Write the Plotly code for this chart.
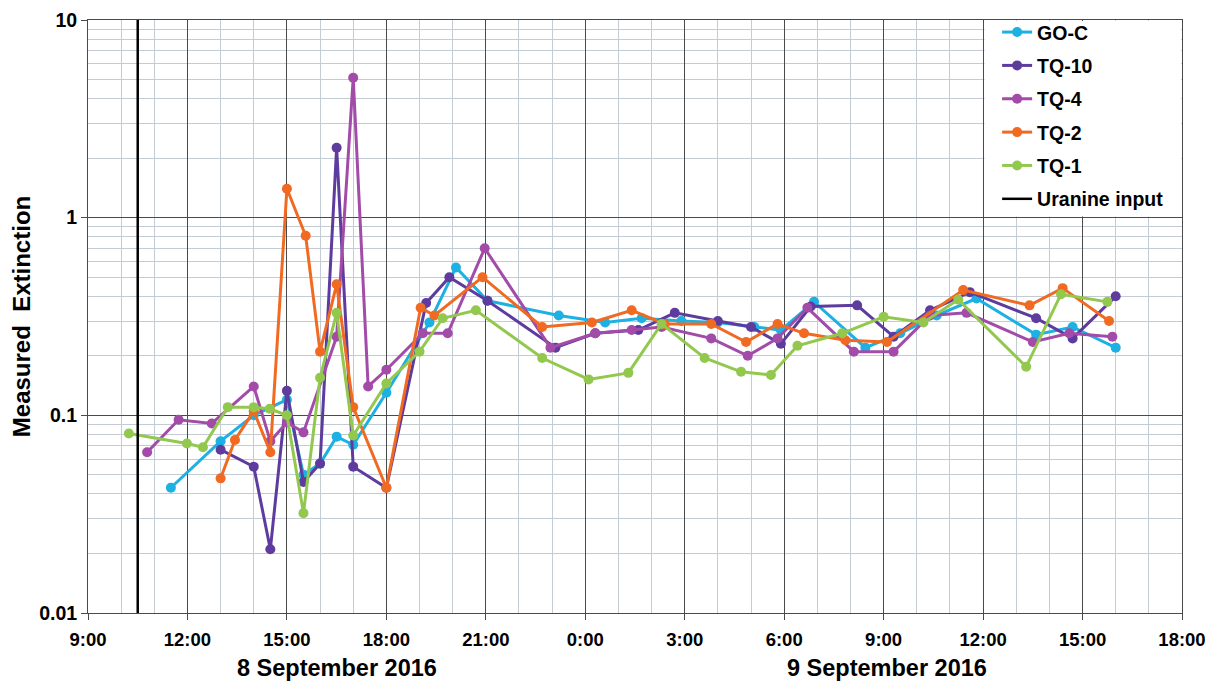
import plotly.graph_objects as go

# ---------------- data ----------------
goc_t = ["2016-09-08 11:30", "2016-09-08 13:00", "2016-09-08 14:00", "2016-09-08 15:00", "2016-09-08 15:30",
         "2016-09-08 16:00", "2016-09-08 16:30", "2016-09-08 17:00", "2016-09-08 18:00", "2016-09-08 19:18",
         "2016-09-08 20:06", "2016-09-08 21:03", "2016-09-08 23:12", "2016-09-09 00:36", "2016-09-09 01:42",
         "2016-09-09 02:54", "2016-09-09 04:00", "2016-09-09 05:06", "2016-09-09 05:54", "2016-09-09 06:54",
         "2016-09-09 08:27", "2016-09-09 09:30", "2016-09-09 10:36", "2016-09-09 11:48", "2016-09-09 13:36",
         "2016-09-09 14:42", "2016-09-09 16:00"]
goc_v = [0.043, 0.074, 0.10, 0.12, 0.050, 0.057, 0.078, 0.071, 0.13, 0.295,
         0.56, 0.38, 0.32, 0.295, 0.31, 0.30, 0.295, 0.28, 0.27, 0.375,
         0.22, 0.26, 0.32, 0.39, 0.256, 0.28, 0.22]

tq10_t = ["2016-09-08 13:00", "2016-09-08 14:00", "2016-09-08 14:30", "2016-09-08 15:00", "2016-09-08 15:30",
          "2016-09-08 16:00", "2016-09-08 16:30", "2016-09-08 17:00", "2016-09-08 18:00", "2016-09-08 19:12",
          "2016-09-08 19:54", "2016-09-08 21:03", "2016-09-08 23:06", "2016-09-09 00:18", "2016-09-09 01:36",
          "2016-09-09 02:42", "2016-09-09 04:00", "2016-09-09 05:00", "2016-09-09 05:54", "2016-09-09 06:48",
          "2016-09-09 08:12", "2016-09-09 09:18", "2016-09-09 10:24", "2016-09-09 11:36", "2016-09-09 13:36",
          "2016-09-09 14:42", "2016-09-09 16:00"]
tq10_v = [0.067, 0.055, 0.021, 0.133, 0.046, 0.057, 2.26, 0.055, 0.043, 0.37,
          0.50, 0.38, 0.22, 0.26, 0.27, 0.33, 0.30, 0.28, 0.23, 0.355,
          0.36, 0.25, 0.34, 0.42, 0.31, 0.245, 0.40]

tq4_t = ["2016-09-08 10:47", "2016-09-08 11:44", "2016-09-08 12:44", "2016-09-08 14:00", "2016-09-08 14:30",
         "2016-09-08 15:00", "2016-09-08 15:30", "2016-09-08 16:30", "2016-09-08 17:00", "2016-09-08 17:27",
         "2016-09-08 18:00", "2016-09-08 19:06", "2016-09-08 19:51", "2016-09-08 20:58", "2016-09-08 22:57",
         "2016-09-09 00:18", "2016-09-09 01:24", "2016-09-09 02:18", "2016-09-09 03:48", "2016-09-09 04:54",
         "2016-09-09 05:48", "2016-09-09 06:42", "2016-09-09 08:06", "2016-09-09 09:18", "2016-09-09 10:24",
         "2016-09-09 11:30", "2016-09-09 13:30", "2016-09-09 14:36", "2016-09-09 15:54"]
tq4_v = [0.065, 0.095, 0.091, 0.14, 0.074, 0.092, 0.082, 0.25, 5.1, 0.14,
         0.17, 0.26, 0.26, 0.70, 0.22, 0.26, 0.27, 0.28, 0.245, 0.20,
         0.245, 0.35, 0.21, 0.21, 0.32, 0.33, 0.235, 0.26, 0.25]

tq2_t = ["2016-09-08 13:00", "2016-09-08 13:26", "2016-09-08 14:00", "2016-09-08 14:30", "2016-09-08 15:00",
         "2016-09-08 15:34", "2016-09-08 16:00", "2016-09-08 16:30", "2016-09-08 17:00", "2016-09-08 18:00",
         "2016-09-08 19:02", "2016-09-08 19:27", "2016-09-08 20:54", "2016-09-08 22:42", "2016-09-09 00:12",
         "2016-09-09 01:24", "2016-09-09 02:24", "2016-09-09 03:48", "2016-09-09 04:51", "2016-09-09 05:48",
         "2016-09-09 06:36", "2016-09-09 07:51", "2016-09-09 09:06", "2016-09-09 11:24", "2016-09-09 13:24",
         "2016-09-09 14:24", "2016-09-09 15:48"]
tq2_v = [0.048, 0.075, 0.105, 0.065, 1.40, 0.81, 0.21, 0.46, 0.11, 0.043,
         0.35, 0.32, 0.50, 0.28, 0.295, 0.34, 0.29, 0.29, 0.235, 0.29,
         0.26, 0.24, 0.235, 0.43, 0.36, 0.44, 0.30]

tq1_t = ["2016-09-08 10:14", "2016-09-08 11:59", "2016-09-08 12:28", "2016-09-08 13:13", "2016-09-08 14:00",
         "2016-09-08 14:29", "2016-09-08 15:00", "2016-09-08 15:30", "2016-09-08 16:00", "2016-09-08 16:30",
         "2016-09-08 17:00", "2016-09-08 18:00", "2016-09-08 19:00", "2016-09-08 19:42", "2016-09-08 20:42",
         "2016-09-08 22:42", "2016-09-09 00:06", "2016-09-09 01:18", "2016-09-09 02:18", "2016-09-09 03:36",
         "2016-09-09 04:42", "2016-09-09 05:36", "2016-09-09 06:24", "2016-09-09 07:45", "2016-09-09 09:00",
         "2016-09-09 10:12", "2016-09-09 11:15", "2016-09-09 13:18", "2016-09-09 14:21", "2016-09-09 15:45"]
tq1_v = [0.081, 0.072, 0.069, 0.11, 0.11, 0.108, 0.10, 0.032, 0.155, 0.33,
         0.079, 0.145, 0.21, 0.31, 0.34, 0.195, 0.152, 0.164, 0.29, 0.195,
         0.166, 0.16, 0.225, 0.26, 0.315, 0.295, 0.385, 0.176, 0.41, 0.375]

uranine_t = ["2016-09-08 10:30", "2016-09-08 10:30"]
uranine_v = [0.01, 10]

series_names = ["GO-C", "TQ-10", "TQ-4", "TQ-2", "TQ-1"]
series_t = [goc_t, tq10_t, tq4_t, tq2_t, tq1_t]
series_v = [goc_v, tq10_v, tq4_v, tq2_v, tq1_v]
series_colors = ["#1DB0E3", "#5E3C9E", "#A24BA9", "#F06A22", "#93C84F"]

y_tickvals = [0.01, 0.1, 1, 10]
y_ticktext = ["0.01", "0.1", "1", "10"]
date_labels = ["8 September 2016", "9 September 2016"]
date_label_pos = ["2016-09-08 16:30", "2016-09-09 09:06"]

FONT = "Liberation Sans, Arial, sans-serif"

fig = go.Figure()

for name, t, v, c in zip(series_names, series_t, series_v, series_colors):
    fig.add_trace(go.Scatter(
        x=t, y=v, name=name, mode="lines+markers",
        line=dict(color=c, width=3),
        marker=dict(color=c, size=10),
        legendgroup=name,
    ))

fig.add_trace(go.Scatter(
    x=uranine_t, y=uranine_v, name="Uranine input", mode="lines",
    line=dict(color="black", width=2.5), legendgroup="uranine",
))

# white panel behind the legend (no data lies in this region)
fig.add_shape(type="rect", xref="paper", yref="paper",
              x0=0.8195, x1=0.9992, y0=0.6685, y1=0.9985,
              fillcolor="white", line=dict(width=0), layer="above")

for lab, pos in zip(date_labels, date_label_pos):
    fig.add_annotation(x=pos, y=0.0, xref="x", yref="paper", yshift=-55,
                       text=lab, showarrow=False, yanchor="middle",
                       font=dict(family=FONT, size=23.5, color="black", weight="bold"))

fig.update_layout(
    width=1213, height=683,
    paper_bgcolor="white", plot_bgcolor="white",
    margin=dict(l=80, r=39, t=12, b=78, autoexpand=False),
    font=dict(family=FONT, size=19, color="black", weight="bold"),
    showlegend=True,
    legend=dict(x=0.831, y=1.012, xanchor="left", yanchor="top",
                bgcolor="rgba(0,0,0,0)", borderwidth=0,
                font=dict(family=FONT, size=19.5, color="black", weight="bold"),
                tracegroupgap=5, itemwidth=30),
)

fig.update_xaxes(
    type="date", automargin=False,
    range=["2016-09-08 09:00", "2016-09-09 18:00"],
    dtick=3 * 3600 * 1000, tick0="2016-09-08 09:00",
    tickformat="%-H:%M",
    showgrid=True, gridcolor="#4a4a4a", gridwidth=1,
    minor=dict(dtick=3600 * 1000, showgrid=True, gridcolor="#c3ccd4", gridwidth=1),
    showline=True, linecolor="#4a4a4a", linewidth=1, mirror=True,
    ticks="outside", ticklen=6, tickcolor="#4a4a4a",
    ticklabelstandoff=4,
    tickfont=dict(family=FONT, size=18.5, color="black", weight="bold"),
    zeroline=False,
)

fig.update_yaxes(
    type="log", range=[-2, 1], automargin=False,
    tickvals=y_tickvals, ticktext=y_ticktext,
    showgrid=True, gridcolor="#4a4a4a", gridwidth=1,
    minor=dict(dtick="D1", showgrid=True, gridcolor="#c3ccd4", gridwidth=1),
    showline=True, linecolor="#4a4a4a", linewidth=1, mirror=True,
    ticks="outside", ticklen=6, tickcolor="#4a4a4a",
    tickfont=dict(family=FONT, size=19.5, color="black", weight="bold"),
    title=dict(text="Measured  Extinction", standoff=4,
               font=dict(family=FONT, size=24, color="black", weight="bold")),
    zeroline=False,
)

fig.write_html("out.html")
